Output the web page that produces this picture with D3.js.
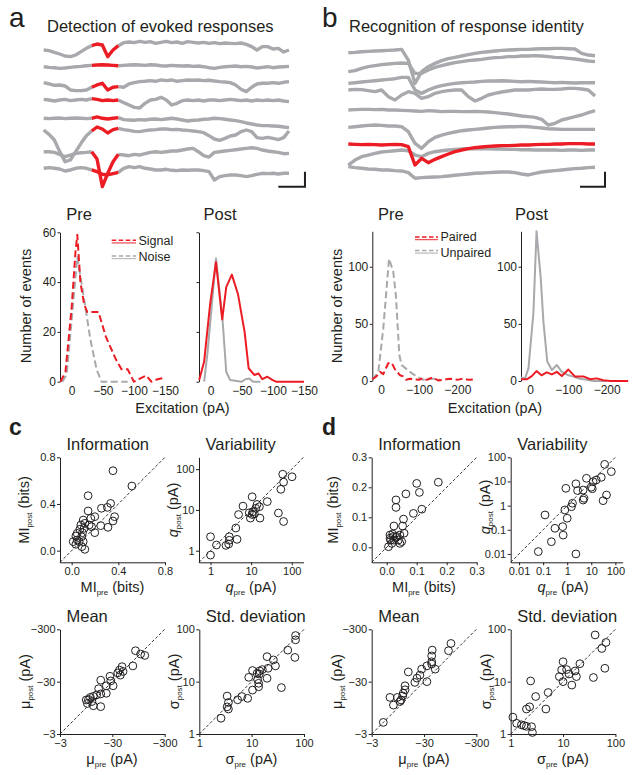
<!DOCTYPE html>
<html><head><meta charset="utf-8">
<script src="https://cdn.jsdelivr.net/npm/d3@7"></script>
<style>body{margin:0;background:#fff}svg{display:block}</style>
</head><body>
<svg id="fig" width="636" height="775"></svg>
<script>
// ---------------- DATA ----------------
// Panel a: example sweeps (deflection in pA, positive = inward/downward), dt = 2 ms
const trA1 = [0,2,7,12,18,20,15,5,-5,-13,-18,-15,20,0,-13,-22,-24,-22,-26,-23,-25,-20,-23,-26,-22,-24,-20,-25,-23,-21,-23,-20,-22,-19,-21,-20,-19,-21,-17,-10,0,-10,-10,-3,-5,6,0];
const trA2 = [0,2,3,5,4,2,0,-1,-3,-4,-5,-6,-5,-4,-3,-4,-5,-6,-5,-4,-6,-5,-3,-2,-4,-3,-2,-3,-1,-2,0,3,5,2,0,-1,-2,0,-1,1,4,2,0,3,1,0,-1];
const trA3 = [-2,2,6,5,8,20,22,22,20,12,5,0,20,12,10,12,2,-2,-5,-6,-8,-6,-10,-8,-10,-6,-8,-10,-9,-10,-8,-9,-7,-5,-4,-2,5,18,25,12,2,0,0,-2,0,-3,-5];
const trA4 = [-2,0,3,0,-2,2,0,-2,0,-4,-2,2,0,2,0,8,15,22,24,10,0,-2,-8,0,15,10,2,0,2,0,3,0,0,2,0,-2,0,2,0,3,0,2,0,2,0,3,5];
const trA5 = [0,1,0,-1,1,0,-1,0,1,0,-4,0,2,0,-2,4,5,6,4,5,3,2,4,2,0,2,5,8,6,5,3,2,0,1,3,5,7,10,14,17,20,22,22,23,24,26,28];
const trA6 = [0,13,30,65,95,90,65,40,17,3,-9,-3,9,-1,-5,-1,1,4,5,2,0,-1,-3,-3,-1,-2,0,1,3,5,8,17,27,31,25,18,15,5,0,5,23,25,22,25,29,23,3];
const trA7 = [0,0,2,8,15,10,5,3,2,0,22,105,65,30,8,10,12,8,10,6,2,0,2,0,-2,-2,-5,-8,-10,0,12,16,2,0,-2,-4,-6,-8,-10,-12,-10,-5,-2,0,2,6,5];
const trA8 = [0,-2,0,2,8,5,0,-2,0,5,10,18,20,16,12,0,-5,-2,-5,0,2,5,5,3,6,7,5,6,5,5,7,10,35,25,22,20,20,22,25,22,18,15,16,15,17,15,15];
const stimIdxA = [9, 14];            // sample window drawn in red (evoked response)
// Panel b: example sweeps, dt = 4 ms; sweep 7 is the paired one
const trB1 = [3,2,0,-1,-2,-3,-4,-5,-7,25,95,60,45,35,27,21,17,13,9,5,2,0,-2,-4,-5,-6,-7,-7,-8,-9,-9,-10,-10,-9,-8,5,10,12];
const trB2 = [5,2,-5,-10,-13,-16,-18,-20,-21,-20,10,10,0,-8,-13,-18,-22,-25,-28,-30,-32,-35,-37,-38,-40,-40,-42,-42,-43,-42,-40,-38,-37,-35,-33,-30,-27,-25];
const trB3 = [2,0,-2,-4,-6,-8,-10,-12,-16,-16,22,32,22,14,9,5,2,0,-1,-2,-4,-5,-5,-6,-5,-4,-3,-4,-3,-2,-1,0,-1,0,1,0,0,0];
const trB4 = [0,-2,-1,2,5,0,20,30,15,5,10,25,20,10,5,2,0,0,20,33,25,15,10,6,3,0,0,0,-2,-3,-2,-2,-3,-5,-5,-3,0,18];
const trB5 = [0,-1,-2,-2,-1,-2,0,0,1,2,3,4,2,3,5,4,4,5,5,4,5,6,8,10,12,15,18,20,22,28,45,40,30,25,20,15,8,2];
const trB6 = [2,0,-2,-4,-5,-4,-2,-2,0,15,50,65,45,32,25,20,16,12,10,8,6,4,2,1,0,0,-1,0,2,4,6,7,8,8,8,8,8,8];
const trB7 = [0,1,2,1,2,3,2,1,2,8,63,43,56,46,38,30,23,18,14,11,9,7,6,5,5,4,3,3,2,1,1,0,0,-1,-1,-1,0,0];
const trB8 = [40,25,15,10,5,1,-1,-3,-5,-3,10,15,5,0,-3,-5,-7,-8,-9,-9,-9,-9,-8,-8,-7,-7,-6,-6,-5,-5,-5,-5,-4,-5,-5,-4,-5,-5];
const trB9 = [-5,-2,0,2,3,5,5,7,8,13,30,28,27,26,25,23,21,19,17,15,14,13,12,11,11,13,17,20,15,11,9,7,5,3,1,0,-2,-3];
const pairedIdxB = 6;
const scaleBarA = {ms: 10, pA: 45}, scaleBarB = {ms: 15, pA: 45};

// Histograms: [excitation (pA), number of events]
const aPreSignal = [[18,0],[10,4],[0,30],[-6,52],[-9,59],[-14,40],[-20,31],[-25,28],[-43,28],[-55,18],[-71,9],[-80,5],[-90,5],[-100,0],[-108,1],[-120,2.5],[-128,0],[-138,1],[-148,1.5]];
const aPreNoise  = [[15,0],[8,3],[0,25],[-9,50],[-20,33],[-30,17],[-40,5],[-48,0],[-90,0]];
const aPostSignal= [[18.5,0.7],[10.6,8],[1,31],[-8.5,48],[-18.5,25],[-25,38],[-34,43],[-44,35],[-54.5,20],[-61,5.4],[-70,2.7],[-77,3.3],[-83,1],[-91,2],[-99,0.7],[-105,0],[-150,0]];
const aPostNoise = [[10.5,0],[5,12],[-8.5,49.5],[-19,25],[-25,4],[-31,0.7],[-50,0],[-56,1],[-62,1.3],[-68,0],[-80,0]];
const bPrePaired   = [[22.7,1.5],[12,4],[2.6,8],[-6,6],[-19,15.5],[-28,16],[-37,10],[-50,5],[-58,4],[-66,1],[-75,2],[-85,1.5],[-100,1],[-110,2.5],[-120,1],[-135,3],[-150,0.5],[-165,1],[-180,2],[-200,1],[-215,2],[-230,1],[-245,1.5]];
const bPreUnpaired = [[22.7,1],[7,8],[-6,46],[-21,107],[-32,96],[-39,75],[-48,23],[-54,14],[-76,8],[-93,4],[-111,1],[-125,2],[-137,2],[-155,1]];
const bPostPaired  = [[23.5,1.5],[8.7,1.5],[-4,4],[-17,8.7],[-30,5],[-43.5,7.6],[-57,5.8],[-70,8],[-83,4.4],[-100,10],[-117,4],[-139,4],[-157,1.5],[-174,2.3],[-191,0.6],[-210,0],[-256,0]];
const bPostUnpaired= [[23.5,3],[13,2.3],[4,11],[-9,60],[-17,131],[-28,90],[-35,52],[-45,17],[-57,9.6],[-70,14],[-83,8],[-100,5],[-113,3.8],[-130,2],[-148,1],[-165,0],[-200,0]];
const histTicksA = {x: [0,-50,-100,-150], y: [0,20,40,60]};
const histTicksB = {x: [0,-100,-200], y: [0,50,100]};

// Scatter: [pre, post]
const cInfo = [[0.354,0.685],[0.516,0.554],[0.141,0.471],[0.334,0.405],[0.306,0.371],[0.255,0.363],[0.141,0.34],[0.368,0.291],[0.354,0.254],[0.198,0.291],[0.164,0.277],[0.099,0.262],[0.113,0.234],[0.079,0.22],[0.15,0.22],[0.17,0.205],[0.249,0.214],[0.311,0.2],[0.198,0.154],[0.107,0.191],[0.07,0.183],[0.093,0.154],[0.047,0.148],[0.036,0.125],[0.085,0.119],[0.047,0.091],[0.013,0.077],[0.064,0.077],[0.099,0.077],[0.036,0.054],[0.087,0.034],[0.113,0.011]];
const cVar = [[60,75],[102,65],[63,48],[54,32],[25,16],[10.6,21],[14,13.6],[6.3,12.4],[10.6,7.7],[9.6,6.3],[16.5,6.3],[4.9,7.7],[47,8.4],[63,5.2],[4.2,3.6],[2.9,2.2],[2.9,1.8],[2.8,1.46],[1.4,1.38],[1,2.2],[1,0.78],[11,9],[12,8],[13,11],[16,12],[9,8.5],[4.5,1.9],[2.4,1.35]];
const cMean = [[-83,-117],[-104,-101],[-125,-95],[-74,-60],[-46,-58],[-41,-50],[-38,-44],[-27,-38],[-18,-32],[-31,-25],[-23,-25],[-16.4,-22],[-15,-16.7],[-11.4,-15],[-9.5,-13.4],[-18,-17.5],[-23,-18],[-13,-15.7],[-12.2,-12.5],[-10,-11.5],[-13,-10.4],[-18,-10],[-10.5,-13.7],[-42.6,-40],[-48,-47],[-28,-31]];
const cStd = [[69,76],[69,63],[49,40],[67,29],[37,7.7],[19.7,30],[26,26],[28.5,20],[20.6,18],[14.2,16],[10.4,16.3],[8.8,12.1],[12.7,14.4],[19.7,11.6],[13.6,9.3],[13.6,8],[10.4,6.9],[8.4,4.8],[6.5,5.2],[5.4,4.5],[3.4,5.3],[3.6,4],[2.6,2],[3.6,3],[3.4,3.3],[16,17],[14,14],[13,11]];
const dInfo = [[0.172,0.217],[0.1,0.213],[0.109,0.183],[0.031,0.158],[0.064,0.178],[0.031,0.133],[0.117,0.127],[0.089,0.113],[0.056,0.094],[0.024,0.071],[0.053,0.071],[0.058,0.047],[0.011,0.041],[0.022,0.036],[0.033,0.036],[0.044,0.041],[0.011,0.03],[0.024,0.024],[0.006,0.002],[0.017,0.013],[0.039,0.024],[0.05,0.019],[0.044,0.013],[0.013,0.024],[0.031,0.033],[0.02,0.044]];
const dVar = [[36,51],[68,25.5],[43,2.75],[31,1.6],[6.3,13.5],[2.3,8],[2.7,4.2],[11.9,9.8],[26,14.8],[16,11.5],[10,5.8],[4.6,4.4],[4.6,1.7],[0.88,5.2],[1.66,1.25],[1.5,0.9],[0.8,0.66],[1,0.3],[0.12,0.41],[0.65,0.135],[0.31,0.115],[0.68,0.06],[0.22,0.032],[0.063,0.0125],[2.3,0.01],[5,2],[11,5]];
const dMean = [[-98,-161],[-88,-117],[-43,-120],[-42,-93],[-49,-52],[-34,-60],[-27,-52],[-25,-40],[-15,-46],[-34,-30],[-22,-35],[-13,-25],[-13,-21],[-11.7,-16],[-9.3,-15],[-10.4,-12.5],[-6.7,-15],[-7.8,-10.7],[-5,-5],[-42,-72],[-42,-65],[-20,-29],[-12,-18],[-10.9,-13.4]];
const dStd = [[41,78],[66,56],[55,43],[63,18],[38,12],[21,22],[10,24],[11.7,17],[9.4,16.7],[8.5,12.5],[10,10],[18,12.5],[14.7,8.6],[5.2,6.2],[2.4,10.3],[3,5.2],[2.3,3.3],[4.7,3],[2,3],[1.1,2.1],[1.3,1.6],[1.6,1.5],[2,1.4],[2.5,1.38],[2.6,1.07],[1.8,1.45],[17,16],[13,14]];

// ---------------- DRAWING ----------------
const FONT = '"Liberation Sans", Arial, Helvetica, sans-serif';
const RED = "#ec1c24", GRAY = "#a7a9ac";
const svg = d3.select("#fig");
svg.append("rect").attr("width",636).attr("height",775).attr("fill","#fff");

function text(x, y, s, size, o = {}) {
  return svg.append("text").attr("x", x).attr("y", y).attr("font-family", FONT)
    .attr("font-size", size).attr("font-weight", o.bold ? "bold" : null)
    .attr("text-anchor", o.anchor || "start").attr("fill", "#231f20").text(s);
}
function richLabel(x, y, parts, size, rotate) {
  const t = svg.append("text").attr("font-family", FONT).attr("font-size", size)
    .attr("text-anchor", "middle").attr("fill", "#231f20")
    .attr("transform", `translate(${x},${y})` + (rotate ? " rotate(-90)" : ""));
  let shifted = false;
  parts.forEach(([s, k]) => {
    const sp = t.append("tspan").text(s);
    if (k === "s") { sp.attr("font-size", size * 0.55).attr("dy", size * 0.22); shifted = true; }
    else {
      if (shifted) { sp.attr("dy", -size * 0.22); shifted = false; }
      if (k === "i") sp.attr("font-style", "italic");
    }
  });
}

// ---- traces ----
function drawTraces(traces, rows, dt, xRange, redTest) {
  const n = traces[0].length;
  const xs = d3.scaleLinear().domain([0, (n - 1) * dt]).range(xRange);
  const ys = d3.scaleLinear().domain([0, 45]).range([0, 15]);
  const g = svg.append("g").attr("fill", "none").attr("stroke-width", 3.4)
    .attr("stroke-linejoin", "round").attr("stroke-linecap", "butt");
  const reds = [];
  traces.forEach((tr, i) => {
    const pts = tr.map((v, j) => ({t: j * dt, v, j}));
    const line = d3.line().x(d => xs(d.t)).y(d => rows[i] + ys(d.v));
    const r = redTest(i, pts);
    if (r === "all") { reds.push(() => g.append("path").attr("d", line(pts)).attr("stroke", RED)); return; }
    if (r) {
      g.append("path").attr("d", line(pts.slice(0, r[0] + 1))).attr("stroke", GRAY);
      g.append("path").attr("d", line(pts.slice(r[1]))).attr("stroke", GRAY);
      reds.push(() => g.append("path").attr("d", line(pts.slice(r[0], r[1] + 1))).attr("stroke", RED));
    } else g.append("path").attr("d", line(pts)).attr("stroke", GRAY);
  });
  reds.forEach(f => f());
  return {xs, ys};
}
const rowsA = [50, 66.7, 83.3, 100, 118.3, 130, 151.7, 168.3];
const rowsB = [51.7, 70, 82.7, 90, 110, 126.7, 144, 151.7, 168.3];
const sA = drawTraces([trA1,trA2,trA3,trA4,trA5,trA6,trA7,trA8], rowsA, 2, [43.7, 289], () => stimIdxA);
const sB = drawTraces([trB1,trB2,trB3,trB4,trB5,trB6,trB7,trB8,trB9], rowsB, 4, [348.3, 595], i => i === pairedIdxB ? "all" : null);

function scaleBar(x1, y, s, bar) {
  const w = s.xs(bar.ms) - s.xs(0), h = s.ys(bar.pA) - s.ys(0);
  svg.append("path").attr("d", `M${x1},${y}H${x1 + w}V${y - h}`).attr("fill", "none")
    .attr("stroke", "#231f20").attr("stroke-width", 2);
}
scaleBar(278.3, 186.7, sA, scaleBarA);
scaleBar(580, 186.7, sB, scaleBarB);

text(9, 27, "a", 28);
text(322, 27, "b", 28);
text(47, 31.5, "Detection of evoked responses", 16.5);
text(349, 31.5, "Recognition of response identity", 16.5);

// ---- histograms ----
function styleAxis(g, size) {
  g.attr("font-family", FONT).attr("font-size", size);
  g.selectAll("path.domain").attr("stroke", "#231f20");
  g.selectAll("line").attr("stroke", "#231f20");
  g.selectAll("text").attr("fill", "#231f20");
}
const minus = d => (d < 0 ? "\u2212" : "") + Math.abs(d);
function hist(cfg) {
  const xs = d3.scaleLinear().domain(cfg.xd).range(cfg.xr);
  const ys = d3.scaleLinear().domain(cfg.yd).range(cfg.yr);
  const ya = svg.append("g").attr("transform", `translate(${cfg.ax},0)`)
    .call(d3.axisLeft(ys).tickValues(cfg.yt).tickSize(2.5).tickSizeOuter(0).tickPadding(1.5)
      .tickFormat(cfg.ylab ? d3.format("d") : ""));
  styleAxis(ya, 12);
  const xa = svg.append("g").attr("transform", `translate(0,${ys(0)})`)
    .call(d3.axisBottom(xs).tickValues(cfg.xt).tickSize(0).tickPadding(4.5).tickFormat(minus));
  xa.select("path.domain").remove();
  styleAxis(xa, 12);
  const line = d3.line().x(d => xs(d[0])).y(d => ys(d[1]));
  cfg.series.forEach(s => svg.append("path").attr("d", line(s.data)).attr("fill", "none")
    .attr("stroke", s.color).attr("stroke-width", 2).attr("stroke-dasharray", s.dash ? "7,3.5" : null)
    .attr("stroke-linejoin", "round"));
}
hist({ax: 60, xd: [0, -150], xr: [71.7, 165], yd: [0, 60], yr: [381.7, 232.3], yt: histTicksA.y, xt: histTicksA.x, ylab: true,
  series: [{data: aPreNoise, color: GRAY, dash: true}, {data: aPreSignal, color: RED, dash: true}]});
hist({ax: 199, xd: [0, -150], xr: [210.7, 304], yd: [0, 60], yr: [381.7, 232.3], yt: histTicksA.y, xt: histTicksA.x, ylab: false,
  series: [{data: aPostNoise, color: GRAY}, {data: aPostSignal, color: RED}]});
hist({ax: 372.3, xd: [0, -200], xr: [381, 457.3], yd: [0, 131], yr: [381, 231.3], yt: histTicksB.y, xt: histTicksB.x, ylab: true,
  series: [{data: bPreUnpaired, color: GRAY, dash: true}, {data: bPrePaired, color: RED, dash: true}]});
hist({ax: 521, xd: [0, -200], xr: [530, 606.7], yd: [0, 131], yr: [381, 231.3], yt: histTicksB.y, xt: histTicksB.x, ylab: true,
  series: [{data: bPostUnpaired, color: GRAY}, {data: bPostPaired, color: RED}]});

text(79.2, 220, "Pre", 16.5, {anchor: "middle"});
text(220, 220, "Post", 16.5, {anchor: "middle"});
text(390.8, 220, "Pre", 16.5, {anchor: "middle"});
text(531.5, 220, "Post", 16.5, {anchor: "middle"});
richLabel(31, 306, [["Number of events", "n"]], 14.5, true);
richLabel(341.5, 306, [["Number of events", "n"]], 14.5, true);
text(182.5, 412.5, "Excitation (pA)", 14.5, {anchor: "middle"});
text(495, 412.5, "Excitation (pA)", 14.5, {anchor: "middle"});

function legend(x1, x2, y, color, label, ty) {
  svg.append("line").attr("x1", x1).attr("x2", x2).attr("y1", y).attr("y2", y).attr("stroke", color)
    .attr("stroke-width", 1.6).attr("stroke-dasharray", "4.5,2.5");
  svg.append("line").attr("x1", x1).attr("x2", x2).attr("y1", y + 2.6).attr("y2", y + 2.6).attr("stroke", color)
    .attr("stroke-width", 1.3).attr("opacity", 0.75);
  text(x2 + 2.5, ty, label, 12.5);
}
legend(111.7, 136, 240.3, RED, "Signal", 245.3);
legend(111.7, 136, 256, GRAY, "Noise", 261);
legend(415, 438, 237, RED, "Paired", 241);
legend(415, 438, 250.5, GRAY, "Unpaired", 256.5);

// ---- scatter ----
function scatter(cfg) {
  const mk = (t, d, r) => (t === "log" ? d3.scaleLog() : d3.scaleLinear()).domain(d).range(r);
  const xs = mk(cfg.type, cfg.xd, cfg.xr), ys = mk(cfg.type, cfg.yd, cfg.yr);
  const xa = svg.append("g").attr("transform", `translate(0,${cfg.yr[0]})`)
    .call(d3.axisBottom(xs).tickValues(cfg.xt).tickSize(3).tickSizeOuter(0).tickPadding(2).tickFormat(cfg.fmt));
  styleAxis(xa, 11);
  const ya = svg.append("g").attr("transform", `translate(${cfg.xr[0]},0)`)
    .call(d3.axisLeft(ys).tickValues(cfg.yt).tickSize(3).tickSizeOuter(0).tickPadding(1.5).tickFormat(cfg.fmt));
  styleAxis(ya, 11);
  svg.append("line").attr("x1", xs(cfg.diag[0])).attr("y1", ys(cfg.diag[0]))
    .attr("x2", xs(cfg.diag[1])).attr("y2", ys(cfg.diag[1]))
    .attr("stroke", "#231f20").attr("stroke-width", 0.9).attr("stroke-dasharray", "3,2");
  svg.append("g").selectAll("circle").data(cfg.data).join("circle")
    .attr("cx", d => xs(d[0])).attr("cy", d => ys(d[1])).attr("r", 3.9)
    .attr("fill", "none").attr("stroke", "#231f20").attr("stroke-width", 1);
  text(cfg.xr[0] + 6.5, cfg.yr[1] - 7, cfg.title, 16.5);
}
const f1 = d3.format(".1f"), fg = d => d3.format("~g")(d), fm = minus;
const rowTop = [562.3, 457.3], rowBot = [734, 629.3];
scatter({type: "lin", xd: [-0.1, 0.8], yd: [-0.1, 0.8], xr: [60, 165], yr: rowTop, xt: [0, 0.4, 0.8], yt: [0, 0.4, 0.8], fmt: f1, diag: [-0.1, 0.8], data: cInfo, title: "Information"});
scatter({type: "log", xd: [0.52, 195], yd: [0.52, 195], xr: [199, 303.5], yr: rowTop, xt: [1, 10, 100], yt: [1, 10, 100], fmt: fg, diag: [0.52, 195], data: cVar, title: "Variability"});
scatter({type: "log", xd: [-3, -300], yd: [-3, -300], xr: [60, 164.7], yr: rowBot, xt: [-3, -30, -300], yt: [-3, -30, -300], fmt: fm, diag: [-3, -300], data: cMean, title: "Mean"});
scatter({type: "log", xd: [1, 100], yd: [1, 100], xr: [199.3, 304], yr: rowBot, xt: [1, 10, 100], yt: [1, 10, 100], fmt: fg, diag: [1, 100], data: cStd, title: "Std. deviation"});
scatter({type: "lin", xd: [-0.05, 0.3], yd: [-0.05, 0.3], xr: [371.7, 476.7], yr: rowTop, xt: [0, 0.1, 0.2, 0.3], yt: [0, 0.1, 0.2, 0.3], fmt: f1, diag: [-0.05, 0.3], data: dInfo, title: "Information"});
scatter({type: "log", xd: [0.0045, 200], yd: [0.0045, 100], xr: [510.7, 622.6], yr: rowTop, xt: [0.01, 0.1, 1, 10, 100], yt: [0.01, 0.1, 1, 10, 100], fmt: fg, diag: [0.0045, 100], data: dVar, title: "Variability"});
scatter({type: "log", xd: [-3, -300], yd: [-3, -300], xr: [371.7, 476.4], yr: rowBot, xt: [-3, -30, -300], yt: [-3, -30, -300], fmt: fm, diag: [-3, -300], data: dMean, title: "Mean"});
scatter({type: "log", xd: [1, 100], yd: [1, 100], xr: [510.7, 615.4], yr: rowBot, xt: [1, 10, 100], yt: [1, 10, 100], fmt: fg, diag: [1, 100], data: dStd, title: "Std. deviation"});

// axis labels
richLabel(112.5, 591.5, [["MI","n"],["pre","s"],[" (bits)","n"]], 14.5);
richLabel(29, 510, [["MI","n"],["post","s"],[" (bits)","n"]], 14.5, true);
richLabel(251, 591.5, [["q","i"],["pre","s"],[" (pA)","n"]], 14.5);
richLabel(177.5, 510, [["q","i"],["post","s"],[" (pA)","n"]], 14.5, true);
richLabel(424, 591.5, [["MI","n"],["pre","s"],[" (bits)","n"]], 14.5);
richLabel(337.5, 510, [["MI","n"],["post","s"],[" (bits)","n"]], 14.5, true);
richLabel(563, 591.5, [["q","i"],["pre","s"],[" (pA)","n"]], 14.5);
richLabel(489.5, 507, [["q","i"],["post","s"],[" (pA)","n"]], 14.5, true);
richLabel(112, 764, [["\u03bc","n"],["pre","s"],[" (pA)","n"]], 14.5);
richLabel(29.5, 681.5, [["\u03bc","n"],["post","s"],[" (pA)","n"]], 14.5, true);
richLabel(251.5, 764, [["\u03c3","n"],["pre","s"],[" (pA)","n"]], 14.5);
richLabel(179, 681.5, [["\u03c3","n"],["post","s"],[" (pA)","n"]], 14.5, true);
richLabel(424, 764, [["\u03bc","n"],["pre","s"],[" (pA)","n"]], 14.5);
richLabel(341.5, 681.5, [["\u03bc","n"],["post","s"],[" (pA)","n"]], 14.5, true);
richLabel(563, 764, [["\u03c3","n"],["pre","s"],[" (pA)","n"]], 14.5);
richLabel(490.5, 681.5, [["\u03c3","n"],["post","s"],[" (pA)","n"]], 14.5, true);

text(9, 435, "c", 23, {bold: true});
text(322, 435, "d", 23, {bold: true});
</script>
</body></html>
